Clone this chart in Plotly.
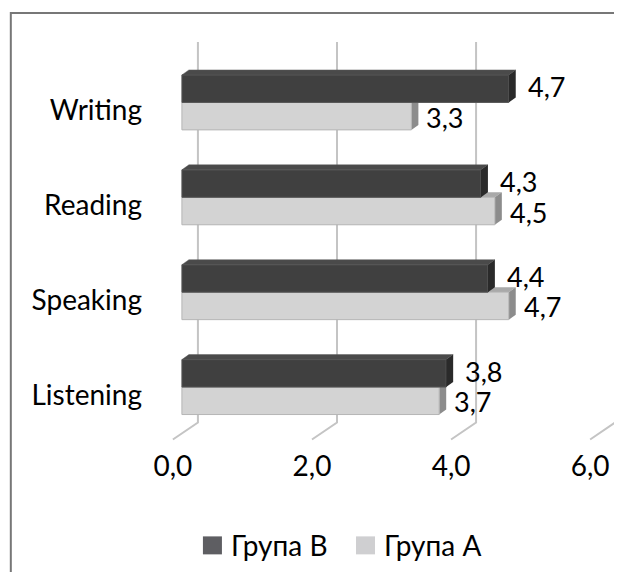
import plotly.graph_objects as go

# ---------------- data ----------------
categories = ["Listening", "Speaking", "Reading", "Writing"]
group_b = [3.8, 4.4, 4.3, 4.7]
group_a = [3.7, 4.7, 4.5, 3.3]
x_ticks = [0, 2, 4, 6]
x_tick_labels = ["0,0", "2,0", "4,0", "6,0"]
series_names = ["Група В", "Група А"]

# ---------------- layout geometry ----------------
OFF = 8                      # page body margin of the html page
W, H = 622 - OFF, 572 - OFF
FONT = "Lato, 'Noto Sans', sans-serif"
ppx = 69.5          # pixels per x unit
ppy = 95.0          # pixels per category
x0_px = 182.0 - OFF       # pixel of x = 0 (front plane)
y0_px = 387.5 - OFF       # pixel of first category centre
xr = [-0.2, 6.3]
yr = [-0.6, 3.7]
ml = x0_px + xr[0] * ppx
mr = W - (x0_px + xr[1] * ppx)
mb = H - (y0_px - yr[0] * ppy)
mt = y0_px - yr[1] * ppy

bargap = 0.421
w = (1 - bargap) / 2
dx = 7 / ppx        # bar depth offset
dy = 5 / ppy

def fmt(v):
    return f"{v:.1f}".replace(".", ",")

pos = list(range(len(categories)))

fig = go.Figure()
fig.add_trace(go.Bar(
    y=pos, x=group_a, orientation="h", offset=-w, width=w,
    marker=dict(color="#d3d3d3", line=dict(color="#b5b5b5", width=1)),
    name=series_names[1], showlegend=False, hoverinfo="skip"))
fig.add_trace(go.Bar(
    y=pos, x=group_b, orientation="h", offset=0, width=w,
    marker=dict(color="#404040", line=dict(color="#555555", width=1)),
    name=series_names[0], showlegend=False, hoverinfo="skip"))

shapes = []
# gridlines with 3D floor
yf = -(440 - OFF - y0_px) / ppy
ytop = (y0_px - (42 - OFF)) / ppy
for v in x_ticks:
    xb = v + 16 / ppx
    xf = v - 9 / ppx
    shapes.append(dict(type="path", xref="x", yref="y", layer="below",
                       path=f"M {xf},{yf} L {xb},{yf + 17 / ppy} L {xb},{ytop}",
                       line=dict(color="#c4c4c4", width=2)))

def poly(pts):
    return "M " + " L ".join(f"{x},{y}" for x, y in pts) + " Z"

for c, a, b in zip(pos, group_a, group_b):
    # series A faces
    ab, at = c - w, c
    shapes.append(dict(type="path", xref="x", yref="y", layer="below",
                       path=poly([(0, at), (dx, at + dy), (a + dx, at + dy), (a, at)]),
                       fillcolor="#a9a9a9", line=dict(width=0)))
    shapes.append(dict(type="path", xref="x", yref="y", layer="below",
                       path=poly([(a, ab), (a, at), (a + dx, at + dy), (a + dx, ab + dy)]),
                       fillcolor="#8c8c8c", line=dict(width=0)))
    # series B faces
    bb, bt = c, c + w
    shapes.append(dict(type="path", xref="x", yref="y", layer="above",
                       path=poly([(0, bt), (dx, bt + dy), (b + dx, bt + dy), (b, bt)]),
                       fillcolor="#4a4a4a", line=dict(color="#5a5a5a", width=0.5)))
    shapes.append(dict(type="path", xref="x", yref="y", layer="above",
                       path=poly([(b, bb), (b, bt), (b + dx, bt + dy), (b + dx, bb + dy)]),
                       fillcolor="#2a2a2a", line=dict(width=0)))

# helpers for (reference) pixel -> paper
pw = W - ml - mr
ph = H - mt - mb
def px_x(px):
    return (px - OFF - ml) / pw
def px_y(py):
    return (H - mb - (py - OFF)) / ph

# outer border (right / bottom edges outside the picture)
shapes.append(dict(type="rect", xref="paper", yref="paper", layer="above",
                   x0=px_x(11), x1=px_x(622 + 50), y0=px_y(572 + 50), y1=px_y(13),
                   line=dict(color="#777777", width=2), fillcolor="rgba(0,0,0,0)"))

annotations = []
for c, a, b in zip(pos, group_a, group_b):
    annotations.append(dict(x=b, y=c + w / 2, xref="x", yref="y", text=fmt(b),
                            showarrow=False, xanchor="left", yanchor="middle",
                            xshift=17, yshift=2, font=dict(family=FONT, size=27, color="#000000")))
    annotations.append(dict(x=a, y=c - w / 2, xref="x", yref="y", text=fmt(a),
                            showarrow=False, xanchor="left", yanchor="middle",
                            xshift=13, yshift=-1, font=dict(family=FONT, size=27, color="#000000")))

# manual legend
legend_items = [(series_names[0], "#5e5e62", 203), (series_names[1], "#cfcfd1", 356)]
for name, col, lx in legend_items:
    shapes.append(dict(type="rect", xref="paper", yref="paper", layer="above",
                       x0=px_x(lx), x1=px_x(lx + 19), y0=px_y(555), y1=px_y(537),
                       fillcolor=col, line=dict(width=0)))
    annotations.append(dict(x=px_x(lx + 26), y=px_y(546), xref="paper", yref="paper",
                            text=name, showarrow=False, xanchor="left", yanchor="middle",
                            font=dict(family=FONT, size=28, color="#000000")))

fig.update_layout(
    width=W, height=H,
    margin=dict(l=ml, r=mr, t=mt, b=mb, pad=0),
    paper_bgcolor="white", plot_bgcolor="white",
    barmode="overlay",
    showlegend=False,
    shapes=shapes, annotations=annotations,
    font=dict(family=FONT, size=28, color="#000000"),
    xaxis=dict(range=xr, tickvals=x_ticks, ticktext=x_tick_labels,
               showgrid=False, zeroline=False, showline=False, ticks="",
               ticklabelshift=-9, ticklabelstandoff=3, automargin=False,
               tickfont=dict(family=FONT, size=28, color="#000000"), fixedrange=True),
    yaxis=dict(range=yr, tickvals=pos, ticktext=categories,
               showgrid=False, zeroline=False, showline=False, ticks="",
               ticklabelshift=8, ticklabelstandoff=25, automargin=False,
               tickfont=dict(family=FONT, size=28, color="#000000"), fixedrange=True),
)

fig.write_html("out.html", config={"displayModeBar": False})
